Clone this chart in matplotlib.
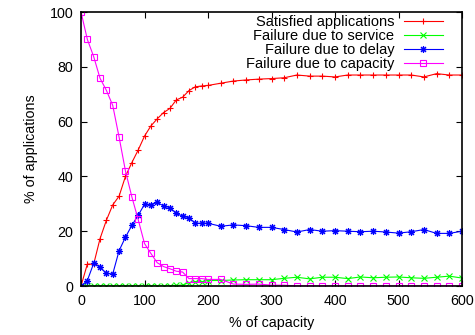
import matplotlib
matplotlib.use("Agg")
import matplotlib.pyplot as plt

plt.rcParams['font.family'] = ['Liberation Sans', 'DejaVu Sans']

x = [0, 10, 20, 30, 40, 50, 60, 70, 80, 90, 100, 110, 120, 130, 140, 150, 160, 170, 180, 190, 200,
     220, 240, 260, 280, 300, 320, 340, 360, 380, 400, 420, 440, 460, 480, 500, 520, 540, 560, 580, 600]

satisfied = [0, 8, 8, 17.3, 24, 29.6, 32.8, 40, 45, 49.6, 54.7, 58.4, 61, 63.3, 64.8, 67.9, 68.9, 71.3, 72.7, 73, 73.2,
             74, 74.8, 75.2, 75.5, 75.7, 76, 77, 76.6, 76.6, 76.3, 77, 77, 77, 77, 77, 77, 76.3, 77.5, 77, 77]
service = [0, 0, 0, 0, 0, 0, 0, 0, 0, 0, 0, 0, 0, 0, 0.1, 0.2, 0.4, 1.2, 1.6, 1.6, 2.0,
           2.0, 2.2, 2.3, 2.3, 2.3, 2.8, 3.2, 2.6, 3.2, 3.2, 2.7, 3.3, 3.0, 3.2, 3.3, 3.0, 2.8, 3.2, 3.6, 2.9]
delay = [0, 2, 8.3, 6.8, 4.6, 4.4, 12.9, 17.8, 22.1, 25.8, 29.8, 29.7, 30.5, 29.2, 28.6, 26.5, 25.5, 24.9, 22.9, 22.9, 22.9,
         21.8, 22.3, 22.0, 21.4, 21.4, 20.6, 19.7, 20.6, 20.0, 20.2, 20.0, 19.8, 20.0, 19.7, 19.3, 19.8, 20.6, 19.2, 19.2, 20.0]
capacity = [100, 90, 83.7, 75.8, 71.4, 65.9, 54.3, 42, 32.6, 24.3, 15.5, 11.9, 8.5, 7.1, 6.3, 5.4, 5.1, 2.7, 2.7, 2.7, 2.4,
            2.4, 0.7, 0.6, 0.7, 0.3, 0.3, 0, 0, 0, 0, 0, 0, 0, 0, 0, 0, 0, 0, 0, 0]

labels = ["Satisfied applications", "Failure due to service", "Failure due to delay", "Failure due to capacity"]
xticks = [0, 100, 200, 300, 400, 500, 600]
yticks = [0, 20, 40, 60, 80, 100]

fig = plt.figure(figsize=(4.75, 3.35), dpi=100)
ax = fig.add_axes([81/475, 1-286/335, (462-81)/475, (286-12)/335])

lw = 0.8
ax.plot(x, satisfied, color='#ff0000', lw=lw, marker='+', ms=5, mew=0.8, label=labels[0])
ax.plot(x, service, color='#00ff00', lw=lw, marker='x', ms=4, mew=0.8, label=labels[1])
ax.plot(x, delay, color='#0000ff', lw=lw, marker=(8, 2, 0), ms=5, mew=0.8, label=labels[2])
ax.plot(x, capacity, color='#ff00ff', lw=lw, marker='s', ms=5, mew=0.8, mfc='none', label=labels[3])

ax.set_xlim(0, 600)
ax.set_ylim(0, 100)
ax.set_xticks(xticks)
ax.set_yticks(yticks)
ax.tick_params(direction='in', top=True, right=True, length=4, width=0.8, labelsize=10.3, pad=5.5)
for s in ax.spines.values():
    s.set_linewidth(1.2)
ax.set_xlabel("% of capacity", fontsize=10.3, labelpad=6)
ax.set_ylabel("% of applications", fontsize=10.3, labelpad=8)

leg = ax.legend(loc='upper right', bbox_to_anchor=(443/475, 1-15/335), bbox_transform=fig.transFigure,
                frameon=False, markerfirst=False, fontsize=10.5, borderpad=0, labelspacing=0.0,
                handlelength=2.7, handletextpad=0.65, borderaxespad=0)

fig.savefig("out.png", dpi=100)
